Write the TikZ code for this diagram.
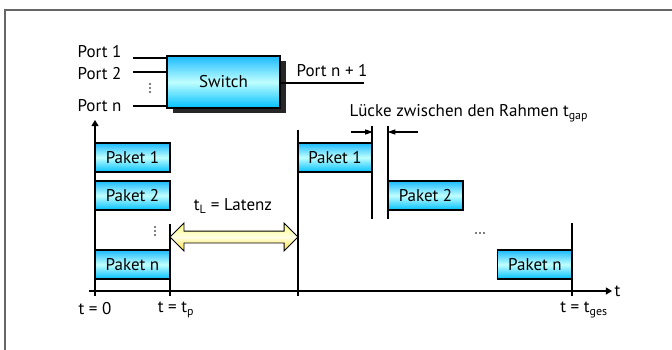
\documentclass[tikz,border=0pt]{standalone}
\usepackage{fontspec}
\setmainfont{PT Sans}
\usetikzlibrary{arrows.meta,shapes.arrows,shadows}

\begin{document}
\begin{tikzpicture}[x=1pt, y=-1pt, >=Triangle, font=\fontsize{17}{19}\selectfont,
  paket/.style={draw, line width=1.1pt, minimum width=75pt, minimum height=29pt, inner sep=0pt, top color=cyan!70!blue!90, bottom color=cyan!75!blue, middle color=cyan!25},
  rule/.style={line width=1.2pt}]
\useasboundingbox (0,0) rectangle (672,350);
\draw[gray!80!black, line width=1.5pt] (5,352) -- (5,10) -- (674,10);
% switch with its ports
\node[paket, minimum width=113pt, minimum height=52pt, general shadow={fill=black!85, shadow xshift=6pt, shadow yshift=-5pt}] (sw) at (223.5,82) {Switch};
\node[anchor=east] (p1) at (125,52) {Port 1}; \node[anchor=east] (p2) at (125,74) {Port 2}; \node[anchor=east] (pn) at (125,106) {Port n};
\coordinate (in1) at (133,58); \coordinate (in2) at (133,72); \coordinate (inn) at (133,106);
\foreach \c in {in1,in2,inn} \draw[rule] (\c) -- (\c -| sw.west);
\node (pout) at (332,71) {Port n + 1}; \coordinate (out) at (364,83);
\draw[rule] (out -| sw.east) -- (out);
\foreach \y in {84,88,92} \fill (150,\y) circle (0.9);
% time axis
\draw[rule, ->] (95,296) -- (95,120); \draw[rule, ->] (89,291) -- (612,291) node[right, inner sep=2pt] (t) {t};
\node[paket] (a1) at (132.5,157.5) {Paket 1}; \node[paket] (a2) at (132.5,195.5) {Paket 2}; \node[paket] (an) at (132.5,264.5) {Paket n};
\node[paket] (b1) at (335,157.5) {Paket 1}; \node[paket] (b2) at (425.5,195.5) {Paket 2}; \node[paket] (bn) at (535,264.5) {Paket n};
\foreach \y in {227,231,235} \fill (155,\y) circle (0.9);
\foreach \x in {476,480,484} \fill (\x,233) circle (0.9);
\draw[rule] (170,224) -- (170,296); \draw[rule] (298,130) -- (298,296); \draw[rule] (572,223) -- (572,296);
\draw[rule] (372,126) -- (372,219); \draw[rule] (388,126) -- (388,219);
% latency and gap
\node[double arrow, draw, line width=0.9pt, minimum width=27pt, minimum height=128pt, double arrow head extend=8pt, inner sep=5.5pt, top color=yellow!55, bottom color=yellow!70!orange!80, middle color=yellow!10] (lat) at (234,237) {};
\node (latl) at (233,206) {t\textsubscript{L} = Latenz};
\node[anchor=west] (gap) at (346,113) {Lücke zwischen den Rahmen t\textsubscript{gap}};
\coordinate (g1) at (351,132); \coordinate (g2) at (418,132);
\draw[rule, -{Triangle[length=8pt, width=5pt]}] (g1) -- (g1 -| b1.east);
\draw[rule, -{Triangle[length=8pt, width=5pt]}] (g2) -- (g2 -| b2.west);
% time labels
\node (t0) at (95,309) {t = 0}; \node (tp) at (176,310) {t = t\textsubscript{p}}; \node (tg) at (584,310) {t = t\textsubscript{ges}};
\end{tikzpicture}
\end{document}
